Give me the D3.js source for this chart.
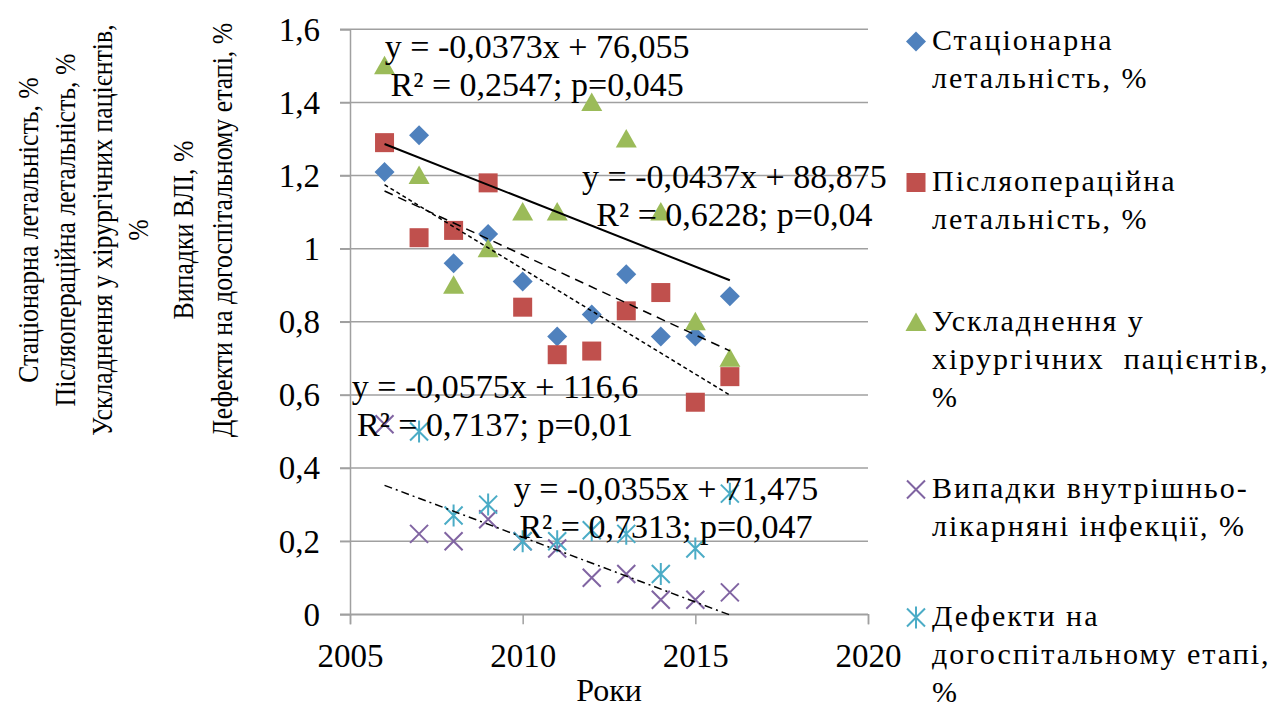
<!DOCTYPE html>
<html lang="uk">

<head>
    <meta charset="UTF-8">
    <title>Показники по роках</title>

    <script src="https://cdn.jsdelivr.net/npm/d3@7"></script>

    <style>
        body {
            margin: 0;
            background: #ffffff;
        }

        svg text {
            font-family: "Liberation Serif", "Times New Roman", serif;
            fill: #000000;
        }

        .legend_text {
            font-size: 30px;
            letter-spacing: 2px;
        }
    </style>
</head>

<body>
    <svg width="1274" height="708"></svg>

    <script>
        // data
        const years = [2006, 2007, 2008, 2009, 2010, 2011, 2012, 2013, 2014, 2015, 2016];
        const stationary = [1.21, 1.31, 0.96, 1.04, 0.91, 0.76, 0.82, 0.93, 0.76, 0.76, 0.87];
        const postop = [1.29, 1.03, 1.05, 1.18, 0.84, 0.71, 0.72, 0.83, 0.88, 0.58, 0.65];
        const complications = [1.50, 1.20, 0.90, 1.00, 1.10, 1.10, 1.40, 1.30, 1.10, 0.80, 0.70];
        const infections = [0.52, 0.22, 0.20, 0.26, 0.20, 0.18, 0.10, 0.11, 0.04, 0.04, 0.06];
        const prehospital = [null, 0.50, 0.27, 0.30, 0.20, 0.20, 0.23, 0.22, 0.11, 0.18, 0.33];

        const xTicks = [2005, 2010, 2015, 2020];
        const yTicks = [0, 0.2, 0.4, 0.6, 0.8, 1, 1.2, 1.4, 1.6];

        const seriesNames = [
            ["Стаціонарна", "летальність, %"],
            ["Післяопераційна", "летальність, %"],
            ["Ускладнення у", "хірургічних  пацієнтів,", "%"],
            ["Випадки внутрішньо-", "лікарняні інфекції, %"],
            ["Дефекти на", "догоспітальному етапі,", "%"]
        ];

        const yTitle = [
            "Стаціонарна летальність, %",
            "Післяопераційна летальність, %",
            "Ускладнення у хірургічних пацієнтів,",
            "%",
            "Випадки ВЛІ, %",
            "Дефекти на догоспітальному етапі, %"
        ];
        const xTitle = "Роки";

        // trend lines: which series, and the equation text printed for it
        const trendSeries = [2, 0, 1, 3];
        const trendLabels = [
            ["y = -0,0373x + 76,055", "R² = 0,2547; p=0,045"],
            ["y = -0,0437x + 88,875", "R² = 0,6228; p=0,04"],
            ["y = -0,0575x + 116,6", "R² = 0,7137; p=0,01"],
            ["y = -0,0355x + 71,475", "R² = 0,7313; p=0,047"]
        ];

        let svg = d3.select("svg");
        const serif = "'Liberation Serif', 'Times New Roman', serif";

        // plot area
        const plotLeft = 350, plotRight = 868, plotTop = 29.3, plotBottom = 614.3;

        let x = d3.scaleLinear().domain([2005, 2020]).range([plotLeft, plotRight]);
        let y = d3.scaleLinear().domain([0, 1.6]).range([plotBottom, plotTop]);

        const colors = ["#4f81bd", "#c0504d", "#9bbb59", "#8064a2", "#4bacc6"];
        const allSeries = [stationary, postop, complications, infections, prehospital];

        // marker shapes
        function marker(g, i, color) {
            if (i === 0) {
                g.append("path").attr("d", "M0,-10L10,0L0,10L-10,0Z").attr("fill", color);
            } else if (i === 1) {
                g.append("rect").attr("x", -9.5).attr("y", -9.5).attr("width", 19).attr("height", 19)
                    .attr("fill", color);
            } else if (i === 2) {
                g.append("path").attr("d", "M0,-10L10.5,8.5L-10.5,8.5Z").attr("fill", color);
            } else if (i === 3) {
                g.append("path").attr("d", "M-9,-9L9,9M-9,9L9,-9")
                    .attr("stroke", color).attr("stroke-width", 2).attr("fill", "none");
            } else {
                g.append("path").attr("d", "M-9,-9L9,9M-9,9L9,-9M0,-11L0,11")
                    .attr("stroke", color).attr("stroke-width", 2).attr("fill", "none");
            }
        }

        // least squares fit over the points
        function linFit(xs, ys) {
            let pts = xs.map((v, i) => [v, ys[i]]).filter(p => p[1] !== null);
            let mx = d3.mean(pts, p => p[0]), my = d3.mean(pts, p => p[1]);
            let sxy = d3.sum(pts, p => (p[0] - mx) * (p[1] - my));
            let sxx = d3.sum(pts, p => (p[0] - mx) * (p[0] - mx));
            let k = sxy / sxx;
            return { k: k, b: my - k * mx };
        }

        // gridlines
        svg.append("g")
            .selectAll("line")
            .data(yTicks)
            .enter()
            .append("line")
            .attr("x1", plotLeft - 10)
            .attr("x2", plotRight)
            .attr("y1", d => y(d))
            .attr("y2", d => y(d))
            .attr("stroke", "#a0a0a0")
            .attr("stroke-width", 1.5);

        // y axis
        let yAxis = svg.append("g")
            .attr("transform", "translate(" + plotLeft + ",0)")
            .call(d3.axisLeft(y).tickValues(yTicks).tickSize(10)
                .tickFormat(d => String(d).replace(".", ",")));

        // x axis
        let xAxis = svg.append("g")
            .attr("transform", "translate(0," + plotBottom + ")")
            .call(d3.axisBottom(x).tickValues(xTicks).tickSize(10).tickFormat(d3.format("d")));

        [yAxis, xAxis].forEach(function (a) {
            a.select(".domain").attr("stroke", "#a0a0a0").attr("stroke-width", 1.5);
            a.selectAll(".tick line").attr("stroke", "#a0a0a0").attr("stroke-width", 1.5);
            a.selectAll(".tick text").attr("font-size", "33px").attr("font-family", serif);
        });
        yAxis.selectAll(".tick text").attr("x", -30).attr("dy", "0.33em");
        xAxis.selectAll(".tick text").attr("y", 29).attr("dy", "0.71em");

        // points
        allSeries.forEach(function (vals, i) {
            let g = svg.append("g");
            vals.forEach(function (v, j) {
                if (v === null) return;
                let m = g.append("g").attr("transform", "translate(" + x(years[j]) + "," + y(v) + ")");
                marker(m, i, colors[i]);
            });
        });

        // trend lines: green solid, blue long dash, red short dash, purple dash-dot
        const trendDash = [null, "9,6", "4,3", "8,4,2,4"];
        trendSeries.forEach(function (s, i) {
            let fit = linFit(years, allSeries[s]);
            let x0 = years[0], x1 = years[years.length - 1];
            svg.append("line")
                .attr("x1", x(x0))
                .attr("y1", y(fit.k * x0 + fit.b))
                .attr("x2", x(x1))
                .attr("y2", y(fit.k * x1 + fit.b))
                .attr("stroke", "#000000")
                .attr("stroke-width", i === 0 ? 2 : 1.5)
                .attr("stroke-dasharray", trendDash[i]);
        });

        // trend labels, placed in data units
        const labelX = [2010.42, 2016.13, 2009.2, 2014.15];
        const labelY = [1.522, 1.166, 0.592, 0.313];
        trendLabels.forEach(function (lines, i) {
            let t = svg.append("text")
                .attr("text-anchor", "middle")
                .attr("font-family", serif)
                .attr("font-size", "34px");
            lines.forEach(function (s, j) {
                t.append("tspan")
                    .attr("x", x(labelX[i]))
                    .attr("y", y(labelY[i]) + j * 38)
                    .text(s);
            });
        });

        // x title
        svg.append("text")
            .attr("x", (plotLeft + plotRight) / 2)
            .attr("y", 701)
            .attr("text-anchor", "middle")
            .attr("font-family", serif)
            .attr("font-size", "32px")
            .text(xTitle);

        // y title (rotated lines, a bit condensed like the original)
        const yTitleX = [38, 75, 112, 148, 193, 232];
        yTitle.forEach(function (s, i) {
            svg.append("text")
                .attr("transform", "translate(" + yTitleX[i] + ",230) rotate(-90) scale(0.86,1)")
                .attr("text-anchor", "middle")
                .attr("font-family", serif)
                .attr("font-size", "30px")
                .text(s);
        });

        // legend
        const legendTop = [50, 191, 331, 498, 626];
        let legend = svg.append("g");
        seriesNames.forEach(function (lines, i) {
            let m = legend.append("g").attr("transform", "translate(916," + (legendTop[i] - 8.5) + ")");
            marker(m, i, colors[i]);
            let t = legend.append("text").attr("class", "legend_text").attr("font-family", serif);
            lines.forEach(function (s, j) {
                t.append("tspan")
                    .attr("x", 932)
                    .attr("y", legendTop[i] + j * 38)
                    .attr("xml:space", "preserve")
                    .text(s);
            });
        });
    </script>
</body>

</html>
